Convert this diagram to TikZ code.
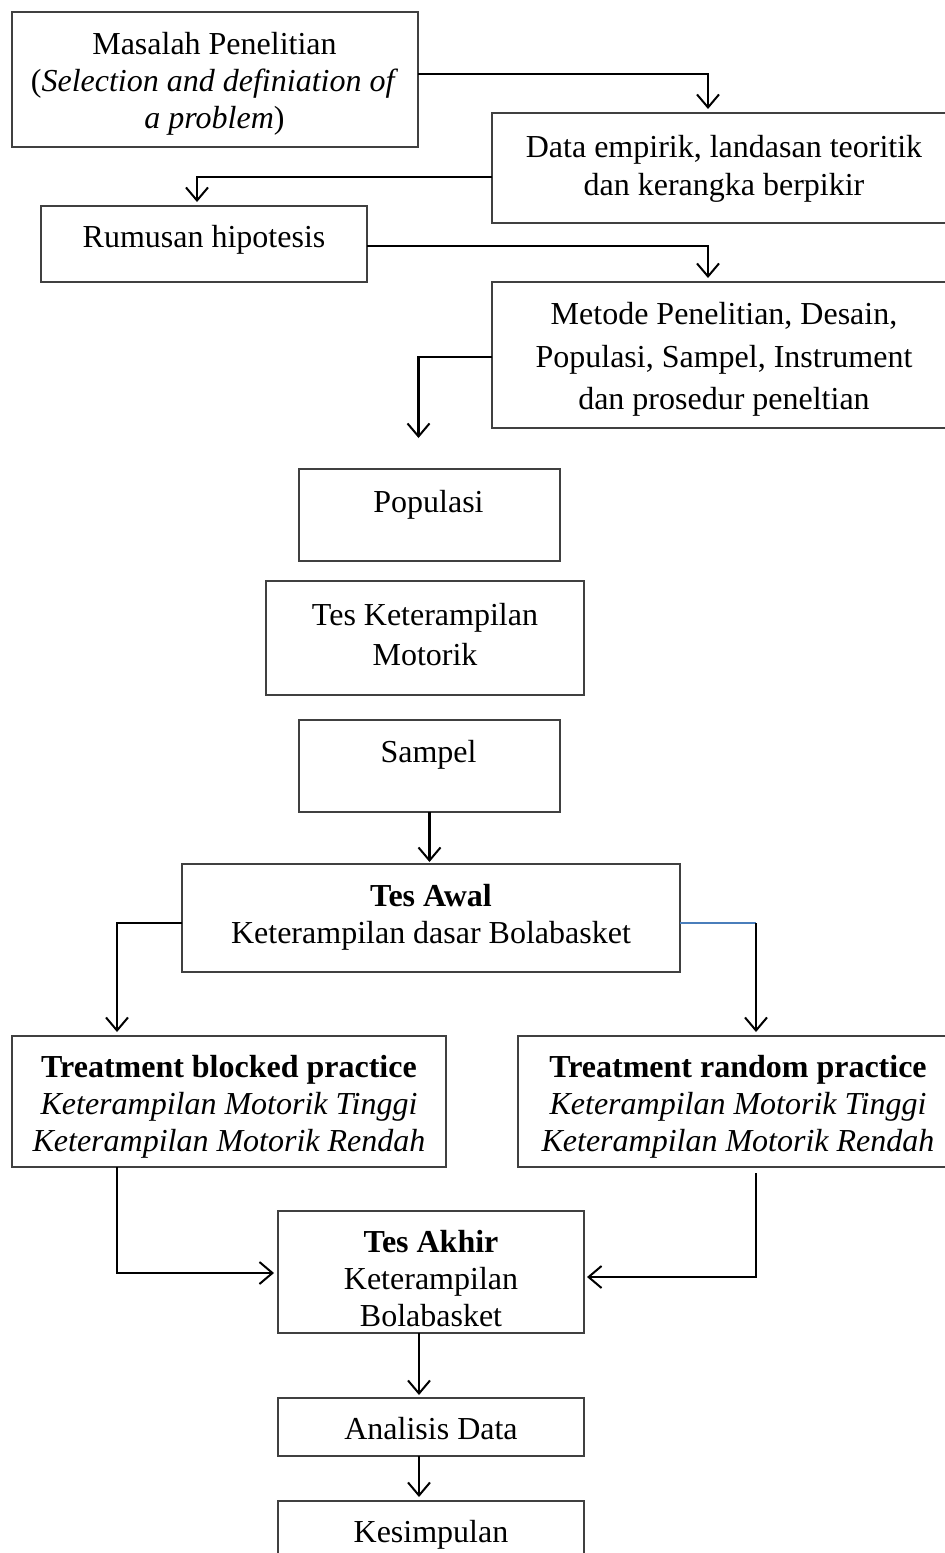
\documentclass[tikz,border=0pt]{standalone}
\usepackage{fontspec}
\setmainfont{Liberation Serif}
\usetikzlibrary{arrows.meta}
\definecolor{linkblue}{RGB}{74,126,187}
\newcommand\mkbox[5]{\node[box, minimum width={(#4-#2)*0.5pt}, minimum height={(#5-#3)*0.5pt}] (#1) at (#2,#3) {};}
\newcommand\fs[1]{\fontsize{16}{#1}\selectfont}
\begin{document}
\begin{tikzpicture}[x=0.5pt,y=-0.5pt,
  box/.style={draw=black!75, line width=0.7pt, rectangle, inner sep=0pt, outer sep=0pt, anchor=north west},
  conn/.style={line width=1.2pt, -{Straight Barb[length=6.5pt,width=11pt,line width=1pt]}, shorten >=2pt},
  blueline/.style={line width=0.9pt, draw=linkblue},
  txt/.style={inner sep=0pt, align=center, font=\fs{18.5}}]
\useasboundingbox (0,0) rectangle (944,1553);

% boxes
\mkbox{mas}{12}{12}{418}{147}
\mkbox{data}{492}{113}{957}{223}
\mkbox{rum}{41}{206}{367}{282}
\mkbox{met}{492}{282}{957}{428}
\mkbox{pop}{299}{469}{560}{561}
\mkbox{tkm}{266}{581}{584}{695}
\mkbox{smp}{299}{720}{560}{812}
\mkbox{awal}{182}{864}{680}{972}
\mkbox{blk}{12}{1036}{446}{1167}
\mkbox{rnd}{518}{1036}{958}{1167}
\mkbox{akh}{278}{1211}{584}{1333}
\mkbox{ana}{278}{1398}{584}{1456}
\mkbox{kes}{278}{1501}{584}{1620}

% texts
\node[txt] (mast) at (214.5,84) {Masalah Penelitian\\(\textit{Selection and definiation of}\\\textit{a problem})};
\node[txt, font=\fs{19.15}] (datat) at (724,168.5) {Data empirik, landasan teoritik\\dan kerangka berpikir};
\node[txt] (rumt) at (204,240) {Rumusan hipotesis};
\node[txt, font=\fs{21.25}] (mett) at (724,359.5) {Metode Penelitian, Desain,\\Populasi, Sampel, Instrument\\dan prosedur peneltian};
\node[txt] (popt) at (428.5,505) {Populasi};
\node[txt, font=\fs{20}] (tkmt) at (425,635) {Tes Keterampilan\\Motorik};
\node[txt] (smpt) at (428.5,755) {Sampel};
\node[txt] (awalt) at (431,917.5) {\textbf{Tes Awal}\\Keterampilan dasar Bolabasket};
\node[txt] (blkt) at (229,1106.5) {\textbf{Treatment blocked practice}\\\textit{Keterampilan Motorik Tinggi}\\\textit{Keterampilan Motorik Rendah}};
\node[txt] (rndt) at (738,1106.5) {\textbf{Treatment random practice}\\\textit{Keterampilan Motorik Tinggi}\\\textit{Keterampilan Motorik Rendah}};
\node[txt] (akht) at (431,1278.5) {\textbf{Tes Akhir}\\Keterampilan\\Bolabasket};
\node[txt] (anat) at (431,1429) {Analisis Data};
\node[txt] (kest) at (431,1535) {Kesimpulan};

% connector bend points
\coordinate (b1) at (708,74);
\coordinate (b2) at (197,177);
\coordinate (b3) at (708,246);
\coordinate (b4) at (418.5,357);
\coordinate (e4) at (418.5,438);
\coordinate (b6) at (117,923);
\coordinate (b7) at (756,923);
\coordinate (b8) at (117,1273);
\coordinate (b9) at (756,1277);

% connectors
\draw[conn] (b1 -| mas.east) -- (b1) -- (b1 |- data.north);
\draw[conn] (b2 -| data.west) -- (b2) -- (b2 |- rum.north);
\draw[conn] (b3 -| rum.east) -- (b3) -- (b3 |- met.north);
\draw[conn, shorten >=0pt] (b4 -| met.west) -- (b4) -- (e4);
\draw[conn, shorten >=1pt] (smp.south) -- (smp.south |- awal.north);
\draw[conn] (b6 -| awal.west) -- (b6) -- (b6 |- blk.north);
\draw[blueline] (b7 -| awal.east) -- (b7);
\draw[conn] (b7) -- (b7 |- rnd.north);
\draw[conn] (b8 |- blk.south) -- (b8) -- (b8 -| akh.west);
\draw[conn, shorten <=3pt, shorten >=1.5pt] (b9 |- rnd.south) -- (b9) -- (b9 -| akh.east);
\draw[conn, shorten >=1.5pt] ([xshift=-6pt]akh.south) -- ([xshift=-6pt]akh.south |- ana.north);
\draw[conn] ([xshift=-6pt]ana.south) -- ([xshift=-6pt]ana.south |- kes.north);
\end{tikzpicture}
\end{document}
